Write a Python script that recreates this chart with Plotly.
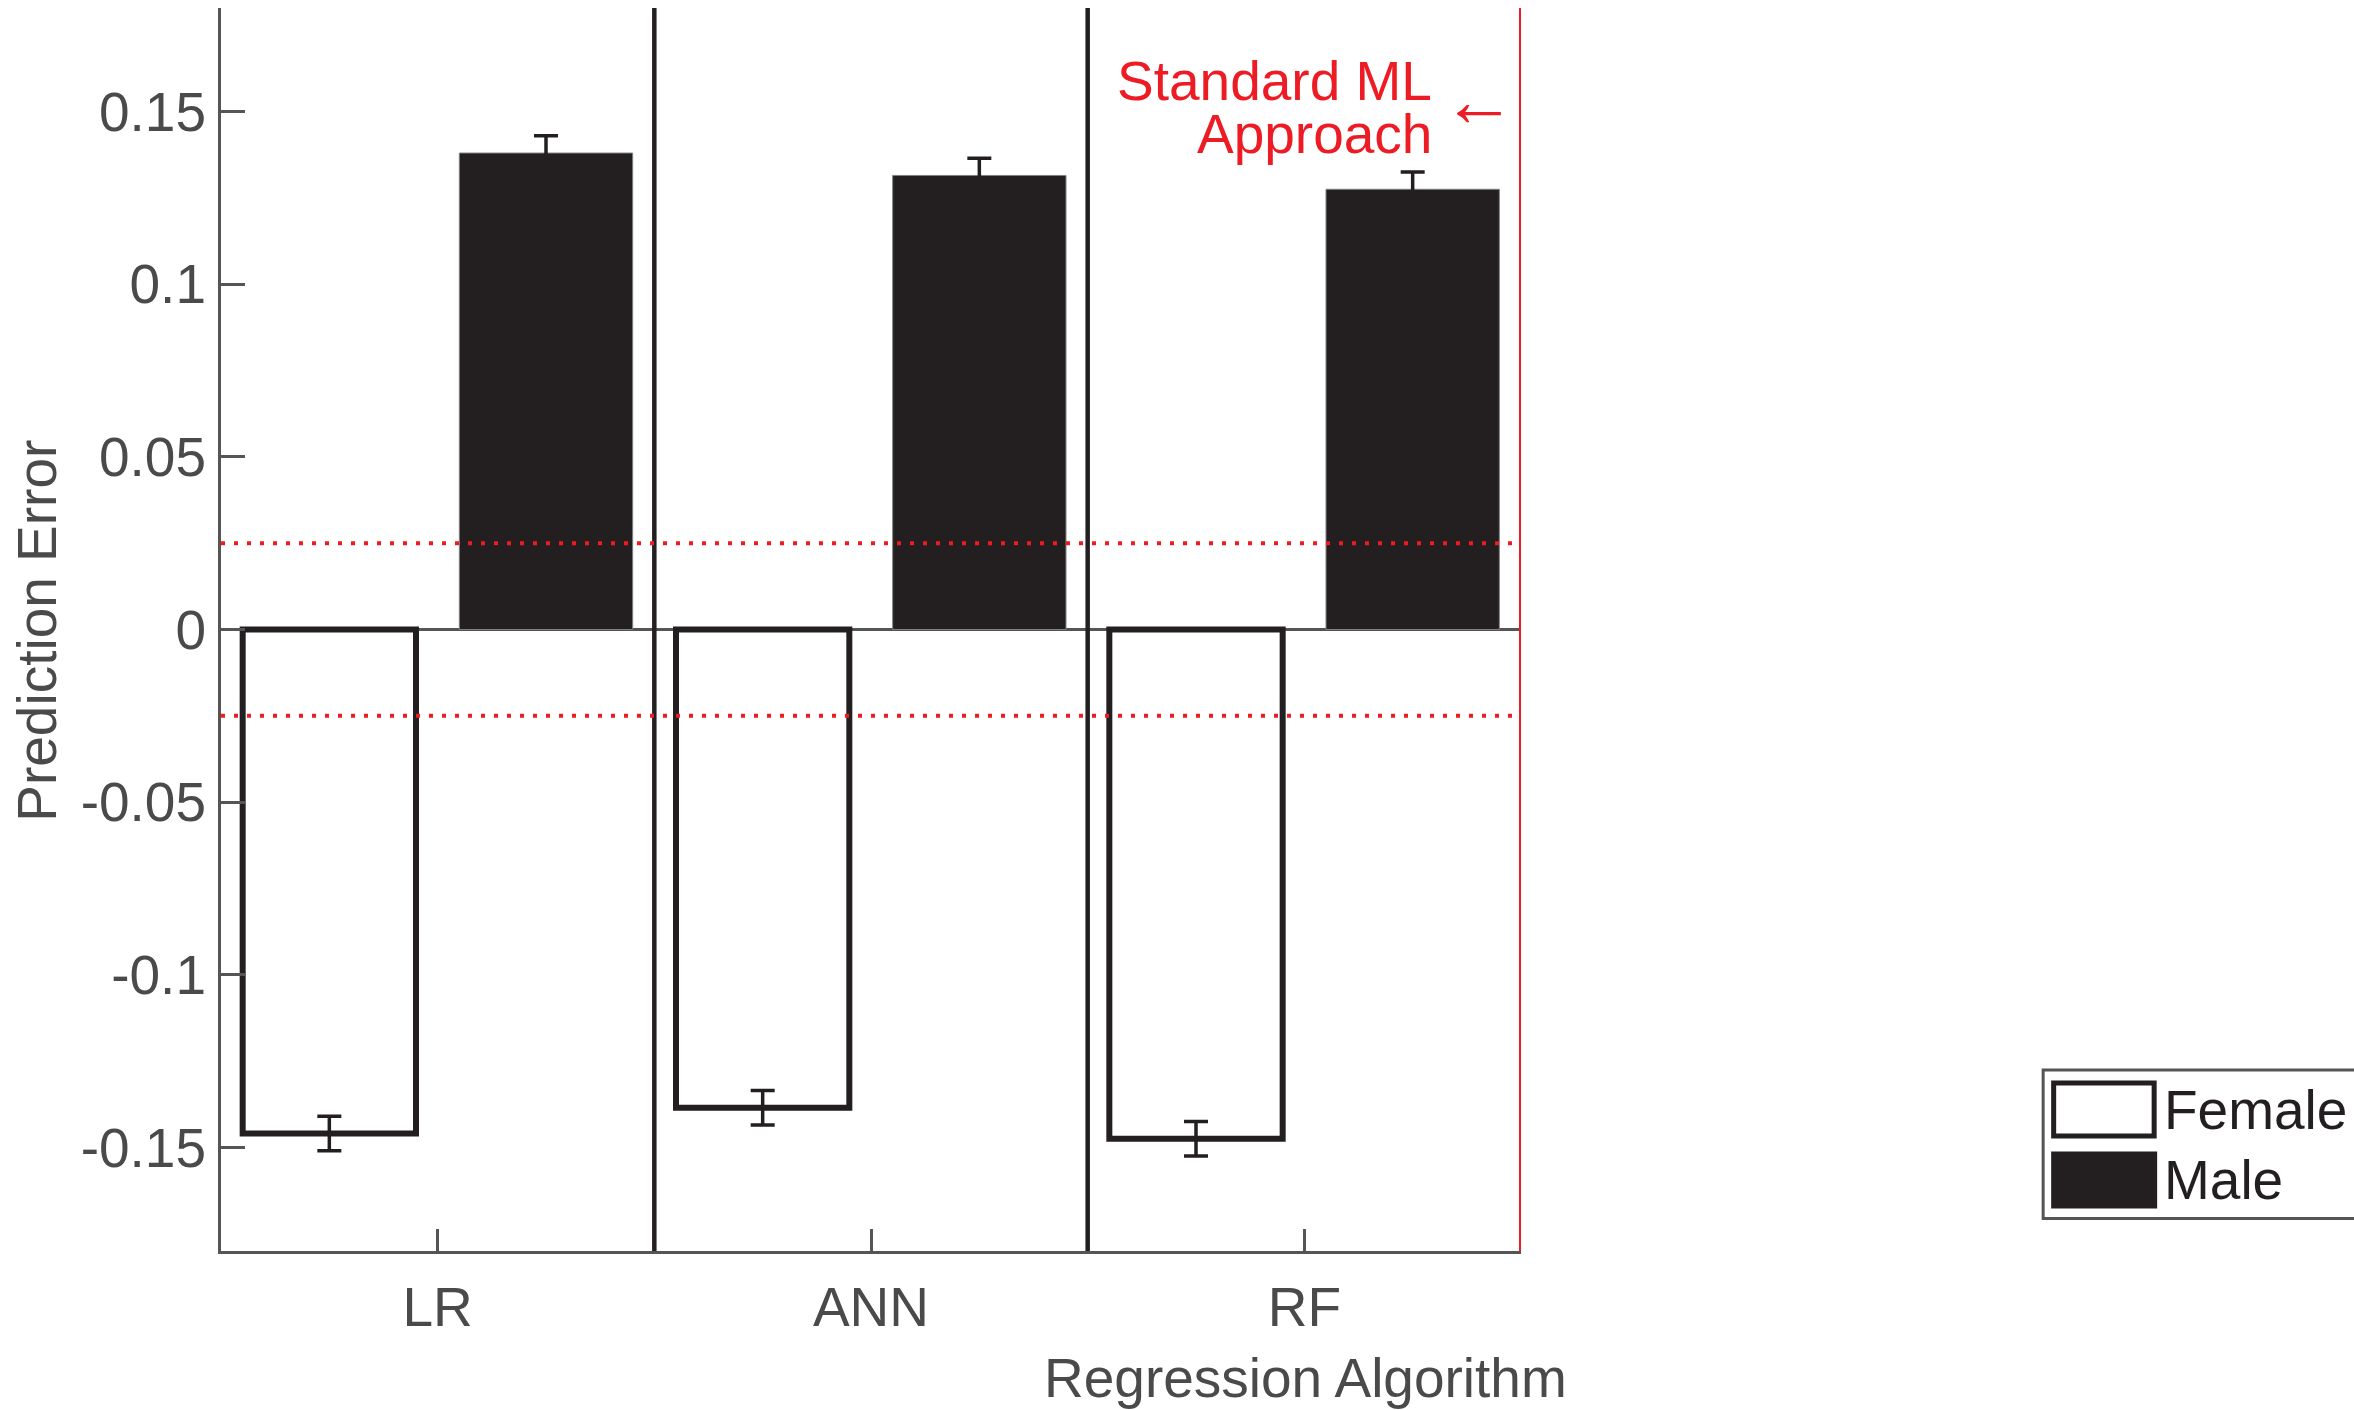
import plotly.graph_objects as go

# Data: mean prediction error per algorithm, split by sex
algorithms = ["LR", "ANN", "RF"]
female_error = [-0.146, -0.1385, -0.1475]
male_error = [0.138, 0.1315, 0.1275]
female_sem = [0.005, 0.005, 0.005]
male_sem = [0.005, 0.005, 0.005]
threshold = [0.025, -0.025]
y_tick_vals = [-0.15, -0.1, -0.05, 0, 0.05, 0.1, 0.15]
y_tick_text = ["-0.15", "-0.1", "-0.05", "0", "0.05", "0.1", "0.15"]

W, H = 2354, 1410
L, R, T, B = 220.7, 1520.8, 7.5, 1250.6   # plot area in pixels

FONT = "Liberation Sans, Arial, Helvetica, sans-serif"
FS = 55
GRAY = "#4a4a4a"
INK = "#231f20"
RED = "#ed1c24"


def px(x):
    return (x - L) / (R - L)


def py(y):
    return (B - y) / (B - T)


xpos = [1, 2, 3]

fig = go.Figure()
fig.add_trace(go.Bar(
    x=xpos, y=female_error, name="Female",
    offset=-0.45, width=0.4,
    marker=dict(color="white", line=dict(color=INK, width=6)),
    error_y=dict(type="data", array=female_sem, color=INK, thickness=3.5, width=12),
    showlegend=False,
))
fig.add_trace(go.Bar(
    x=xpos, y=male_error, name="Male",
    offset=0.05, width=0.4,
    marker=dict(color=INK, line=dict(color="#808080", width=1)),
    error_y=dict(type="data", array=male_sem, color=INK, thickness=3.5, width=12),
    showlegend=False,
))

shapes = []
# group separators and the highlighted right boundary
for xs in [1.5, 2.5]:
    shapes.append(dict(type="line", xref="x", yref="paper", x0=xs, x1=xs, y0=0, y1=1,
                       line=dict(color=INK, width=4.5), layer="above"))
shapes.append(dict(type="line", xref="x", yref="paper", x0=3.5, x1=3.5, y0=0, y1=1,
                   line=dict(color=RED, width=4), layer="above"))
# tolerance band
for t in threshold:
    shapes.append(dict(type="line", xref="x", yref="y", x0=0.5, x1=3.5, y0=t, y1=t,
                       line=dict(color=RED, width=4, dash="4px,9px"), layer="above"))

# legend box
shapes.append(dict(type="rect", xref="paper", yref="paper",
                   x0=px(2043), x1=px(2362), y0=py(1218), y1=py(1069.5),
                   line=dict(color="#555555", width=3), fillcolor="white"))
shapes.append(dict(type="rect", xref="paper", yref="paper",
                   x0=px(2053.5), x1=px(2154), y0=py(1135.5), y1=py(1082.5),
                   line=dict(color=INK, width=5), fillcolor="white"))
shapes.append(dict(type="rect", xref="paper", yref="paper",
                   x0=px(2051), x1=px(2157), y0=py(1208), y1=py(1151),
                   line=dict(color=INK, width=0), fillcolor=INK))

annotations = [
    dict(text="Prediction Error", xref="paper", yref="paper", x=px(37), y=py(630),
         textangle=-90, showarrow=False, xanchor="center", yanchor="middle",
         font=dict(family=FONT, size=FS, color=GRAY)),
    dict(text="Regression Algorithm", xref="paper", yref="paper", x=px(1305), y=py(1378),
         showarrow=False, xanchor="center", yanchor="middle",
         font=dict(family=FONT, size=FS, color=GRAY)),
    dict(text="Standard ML", xref="paper", yref="paper", x=px(1434), y=py(81),
         showarrow=False, xanchor="right", yanchor="middle",
         font=dict(family=FONT, size=FS, color=RED)),
    dict(text="Approach", xref="paper", yref="paper", x=px(1434), y=py(134),
         showarrow=False, xanchor="right", yanchor="middle",
         font=dict(family=FONT, size=FS, color=RED)),
    dict(text="←", xref="paper", yref="paper", x=px(1479), y=py(101),
         showarrow=False, xanchor="center", yanchor="middle",
         font=dict(family="Liberation Serif, Times New Roman, serif", size=74, color=RED)),
    dict(text="Female", xref="paper", yref="paper", x=px(2162), y=py(1110),
         showarrow=False, xanchor="left", yanchor="middle",
         font=dict(family=FONT, size=FS, color=INK)),
    dict(text="Male", xref="paper", yref="paper", x=px(2162), y=py(1180),
         showarrow=False, xanchor="left", yanchor="middle",
         font=dict(family=FONT, size=FS, color=INK)),
]

fig.update_layout(
    width=W, height=H,
    margin=dict(l=L, r=W - R, t=T, b=H - B, pad=0),
    paper_bgcolor="white", plot_bgcolor="white",
    barmode="overlay",
    showlegend=False,
    shapes=shapes,
    annotations=annotations,
    font=dict(family=FONT, size=FS, color=GRAY),
)
fig.update_xaxes(
    range=[0.5, 3.5], tickvals=xpos, ticktext=algorithms,
    showgrid=False, zeroline=False,
    showline=True, linecolor="#555555", linewidth=3,
    ticks="inside", ticklen=22, tickwidth=3, tickcolor="#555555",
    tickfont=dict(family=FONT, size=FS, color=GRAY),
    ticklabelstandoff=6,
)
fig.update_yaxes(
    range=[-0.18, 0.18], tickvals=y_tick_vals, ticktext=y_tick_text,
    showgrid=False,
    zeroline=True, zerolinecolor="#555555", zerolinewidth=2.5,
    showline=True, linecolor="#555555", linewidth=3,
    ticks="inside", ticklen=24, tickwidth=3, tickcolor="#555555",
    tickfont=dict(family=FONT, size=FS, color=GRAY),
    ticklabelstandoff=1,
)

fig.write_html("out.html")
